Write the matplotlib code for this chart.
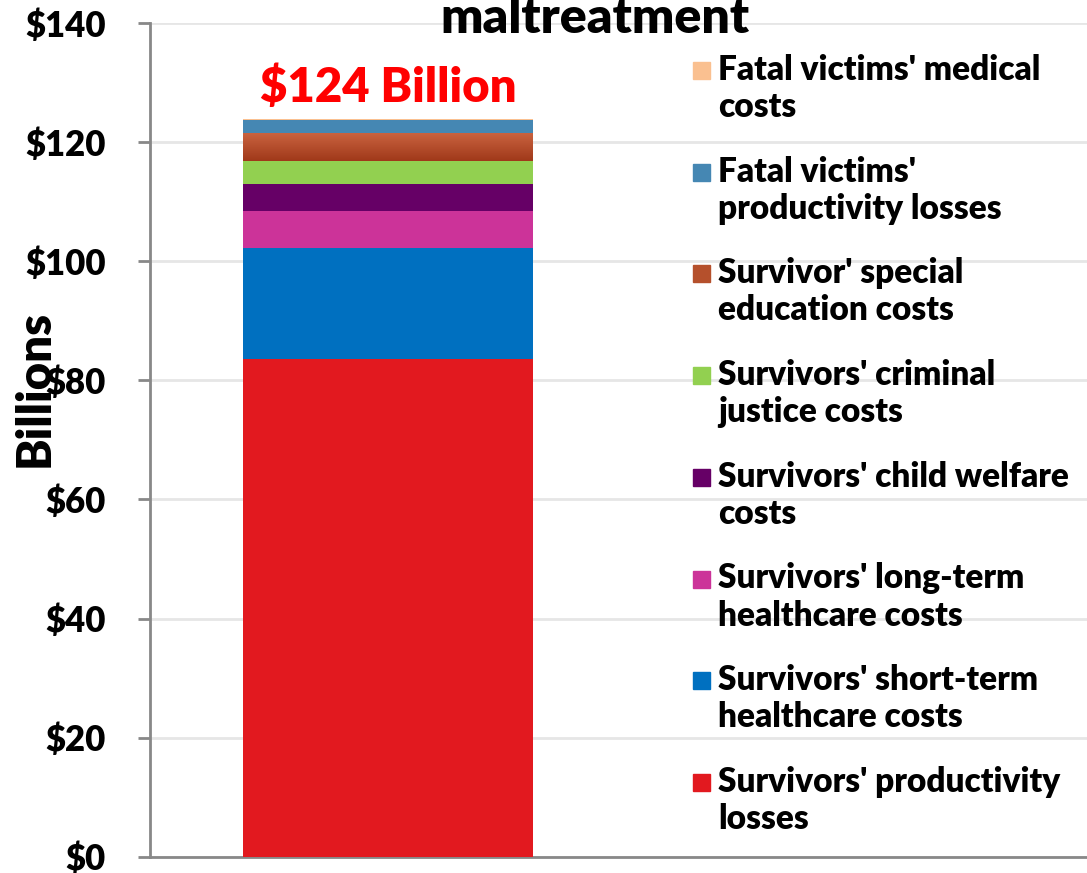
import numpy as np
import matplotlib.pyplot as plt
from matplotlib.patches import Rectangle
from matplotlib.colors import LinearSegmentedColormap

# cost components, bottom to top (billions USD)
labels = [
    "Survivors' productivity\nlosses",
    "Survivors' short-term\nhealthcare costs",
    "Survivors' long-term\nhealthcare costs",
    "Survivors' child welfare\ncosts",
    "Survivors' criminal\njustice costs",
    "Survivor' special\neducation costs",
    "Fatal victims'\nproductivity losses",
    "Fatal victims' medical\ncosts",
]
values = [83.5, 18.8, 6.2, 4.4, 3.9, 4.7, 2.2, 0.1]
colors = ["#E2191F", "#0070C0", "#CC3399", "#660066", "#92D050",
          "#B5502C", "#4587B3", "#FAC090"]
yticks = [0, 20, 40, 60, 80, 100, 120, 140]

W, H = 1087, 873
FONT = "Lato"
WT = "heavy"
fig = plt.figure(figsize=(W / 100, H / 100), dpi=100)
ax = fig.add_axes([150 / W, 1 - 856.7 / H, (W - 150) / W, (856.7 - 23) / H])

bw = 0.6
px_per_unit = 290 / bw
x0 = -238 / px_per_unit
ax.set_xlim(x0, x0 + (W - 150) / px_per_unit)
ax.set_ylim(0, 140)

bottom = 0
for i, (v, c) in enumerate(zip(values, colors)):
    ax.bar(0, v, bw, bottom=bottom, color=c, zorder=3, linewidth=0)
    if i == 5:
        # the special education segment has a vertical gradient
        cmap = LinearSegmentedColormap.from_list("g", ["#A0391A", "#C9623F"])
        ax.imshow(np.linspace(0, 1, 50).reshape(-1, 1), cmap=cmap, origin="lower",
                  extent=(-bw / 2, bw / 2, bottom, bottom + v), aspect="auto",
                  zorder=4)
    bottom += v

ax.set_yticks(yticks)
ax.set_yticklabels(["$%d" % t for t in yticks], fontsize=25, fontweight=WT,
                   family=FONT)
ax.tick_params(axis="y", length=9, width=2, color="#888888", pad=23)
ax.set_xticks([])
ax.grid(axis="y", color="#E6E6E6", linewidth=2, zorder=0)
for s in ["top", "right"]:
    ax.spines[s].set_visible(False)
for s in ["left", "bottom"]:
    ax.spines[s].set_color("#888888")
    ax.spines[s].set_linewidth(2)

fig.text(13 / W, 1 - 388 / H, "Billions", rotation=90, fontsize=34,
         fontweight=WT, family=FONT, ha="left", va="center")
ax.text(0, 126.8, "$124 Billion", color="#FF0000", fontsize=34,
        fontweight=WT, family=FONT, ha="center", va="baseline")
fig.text(595 / W, 1 - 33 / H, "maltreatment", fontsize=36,
         fontweight=WT, family=FONT, ha="center", va="baseline")

# legend drawn by hand, top entry first, one text per line
for i, (lab, c) in enumerate(zip(labels[::-1], colors[::-1])):
    base = 80 + i * 101.7
    fig.patches.append(Rectangle((693 / W, 1 - (base - 1) / H), 17 / W, 17 / H,
                                 transform=fig.transFigure, color=c))
    for j, line in enumerate(lab.split("\n")):
        fig.text(718 / W, 1 - (base + j * 37) / H, line, fontsize=24,
                 fontweight=WT, family=FONT, ha="left", va="baseline")

plt.savefig("out.png", dpi=100)
